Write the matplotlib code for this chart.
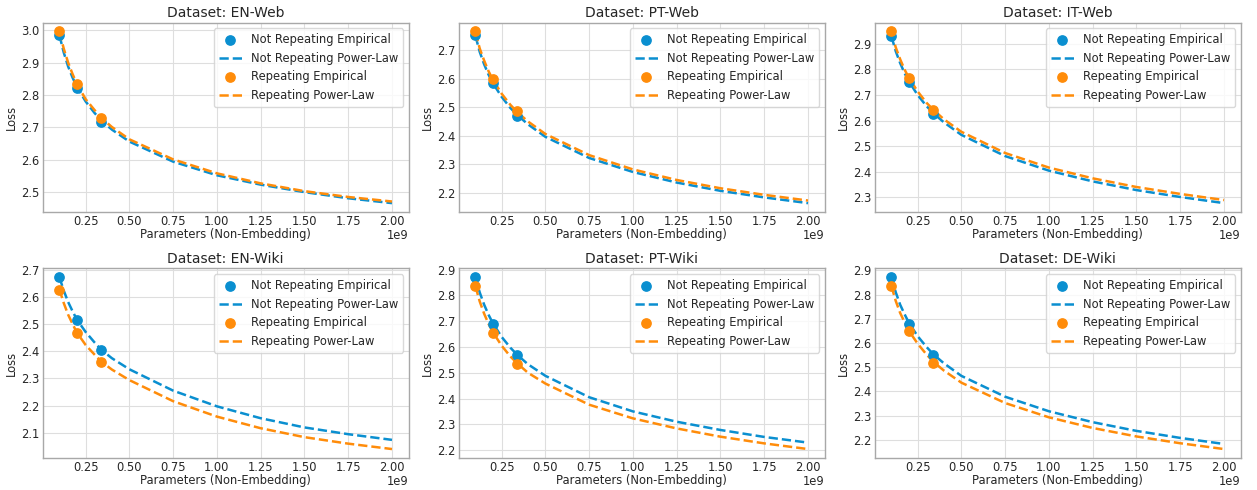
import numpy as np
import matplotlib
matplotlib.use("Agg")
import matplotlib.pyplot as plt

# model sizes (billions of non-embedding parameters)
emp_sizes = [0.1, 0.2, 0.34]
curve_sizes = [0.1, 0.125, 0.15, 0.175, 0.2, 0.25, 0.3, 0.34, 0.4, 0.5,
               0.75, 1.0, 1.25, 1.5, 1.75, 2.0]

datasets = ["EN-Web", "PT-Web", "IT-Web", "EN-Wiki", "PT-Wiki", "DE-Wiki"]

# empirical losses
nr_emp = {
    "EN-Web": [2.985, 2.822, 2.718],
    "PT-Web": [2.751, 2.583, 2.468],
    "IT-Web": [2.930, 2.752, 2.626],
    "EN-Wiki": [2.675, 2.515, 2.404],
    "PT-Wiki": [2.870, 2.690, 2.570],
    "DE-Wiki": [2.872, 2.679, 2.550],
}
r_emp = {
    "EN-Web": [2.997, 2.833, 2.728],
    "PT-Web": [2.766, 2.599, 2.486],
    "IT-Web": [2.950, 2.767, 2.643],
    "EN-Wiki": [2.629, 2.467, 2.361],
    "PT-Wiki": [2.836, 2.655, 2.535],
    "DE-Wiki": [2.835, 2.648, 2.519],
}

# power-law curves
nr_fit = {
    "EN-Web": [2.985, 2.931, 2.888, 2.854, 2.825, 2.780, 2.745, 2.721, 2.693,
               2.656, 2.594, 2.552, 2.523, 2.500, 2.481, 2.466],
    "PT-Web": [2.750, 2.693, 2.650, 2.614, 2.584, 2.536, 2.497, 2.472, 2.440,
               2.396, 2.322, 2.273, 2.236, 2.207, 2.184, 2.164],
    "IT-Web": [2.930, 2.871, 2.825, 2.786, 2.753, 2.700, 2.657, 2.629, 2.593,
               2.544, 2.461, 2.404, 2.362, 2.328, 2.301, 2.277],
    "EN-Wiki": [2.675, 2.625, 2.583, 2.549, 2.518, 2.472, 2.434, 2.406, 2.375,
                2.334, 2.255, 2.197, 2.153, 2.119, 2.094, 2.073],
    "PT-Wiki": [2.871, 2.811, 2.764, 2.725, 2.692, 2.639, 2.597, 2.569, 2.533,
                2.488, 2.405, 2.350, 2.310, 2.278, 2.251, 2.229],
    "DE-Wiki": [2.872, 2.809, 2.758, 2.719, 2.683, 2.628, 2.584, 2.553, 2.516,
                2.464, 2.378, 2.318, 2.273, 2.237, 2.208, 2.183],
}
r_fit = {
    "EN-Web": [2.996, 2.943, 2.900, 2.865, 2.834, 2.787, 2.754, 2.729, 2.701,
               2.663, 2.601, 2.558, 2.527, 2.503, 2.485, 2.471],
    "PT-Web": [2.762, 2.705, 2.663, 2.626, 2.596, 2.547, 2.508, 2.482, 2.450,
               2.406, 2.332, 2.282, 2.245, 2.216, 2.193, 2.173],
    "IT-Web": [2.947, 2.886, 2.840, 2.800, 2.767, 2.714, 2.670, 2.642, 2.605,
               2.556, 2.473, 2.416, 2.374, 2.340, 2.313, 2.289],
    "EN-Wiki": [2.630, 2.579, 2.536, 2.502, 2.470, 2.424, 2.389, 2.362, 2.333,
                2.294, 2.216, 2.159, 2.116, 2.083, 2.059, 2.039],
    "PT-Wiki": [2.836, 2.776, 2.729, 2.690, 2.657, 2.605, 2.563, 2.536, 2.500,
                2.458, 2.376, 2.323, 2.284, 2.252, 2.226, 2.204],
    "DE-Wiki": [2.835, 2.773, 2.724, 2.686, 2.650, 2.597, 2.553, 2.522, 2.486,
                2.436, 2.352, 2.293, 2.249, 2.214, 2.186, 2.162],
}

blue = "#0a8fd0"
orange = "#ff8c0a"

plt.rcParams["font.family"] = "DejaVu Sans"
plt.rcParams["font.size"] = 8.3
plt.rcParams["text.color"] = "#262626"
plt.rcParams["axes.labelcolor"] = "#262626"
plt.rcParams["xtick.color"] = "#262626"
plt.rcParams["ytick.color"] = "#262626"

fig, axes = plt.subplots(2, 3, figsize=(12.57, 4.9), dpi=100)
fig.subplots_adjust(left=0.034, right=0.987, top=0.954, bottom=0.066,
                    wspace=0.137, hspace=0.30)

xe = np.array(emp_sizes) * 1e9
xc = np.array(curve_sizes) * 1e9

for ax, name in zip(axes.flat, datasets):
    ax.scatter(xe, nr_emp[name], s=45, color=blue, zorder=3,
               label="Not Repeating Empirical")
    ax.plot(xc, nr_fit[name], "--", color=blue, lw=1.8, zorder=2,
            label="Not Repeating Power-Law")
    ax.scatter(xe, r_emp[name], s=45, color=orange, zorder=3,
               label="Repeating Empirical")
    ax.plot(xc, r_fit[name], "--", color=orange, lw=1.8, zorder=2,
            label="Repeating Power-Law")

    ax.set_title("Dataset: " + name, fontsize=10, pad=4)
    ax.set_xlabel("Parameters (Non-Embedding)", labelpad=0)
    ax.set_ylabel("Loss", labelpad=2)
    ax.grid(True, color="#dedede", lw=0.8)
    ax.set_axisbelow(True)
    ax.tick_params(length=0, pad=2.5)
    # scale label placed on the same line as the axis label
    ax.xaxis.get_offset_text().set_visible(False)
    ax.text(1.0, -0.125, "1e9", transform=ax.transAxes, ha="right",
            va="center", fontsize=8.3)
    for sp in ax.spines.values():
        sp.set_color("#a8a8a8")
        sp.set_linewidth(1.0)
    ax.legend(loc="upper right", fontsize=8.3, framealpha=0.8,
              edgecolor="#d0d0d0", borderpad=0.4, handlelength=2.0)

plt.savefig("out.png", dpi=100)
